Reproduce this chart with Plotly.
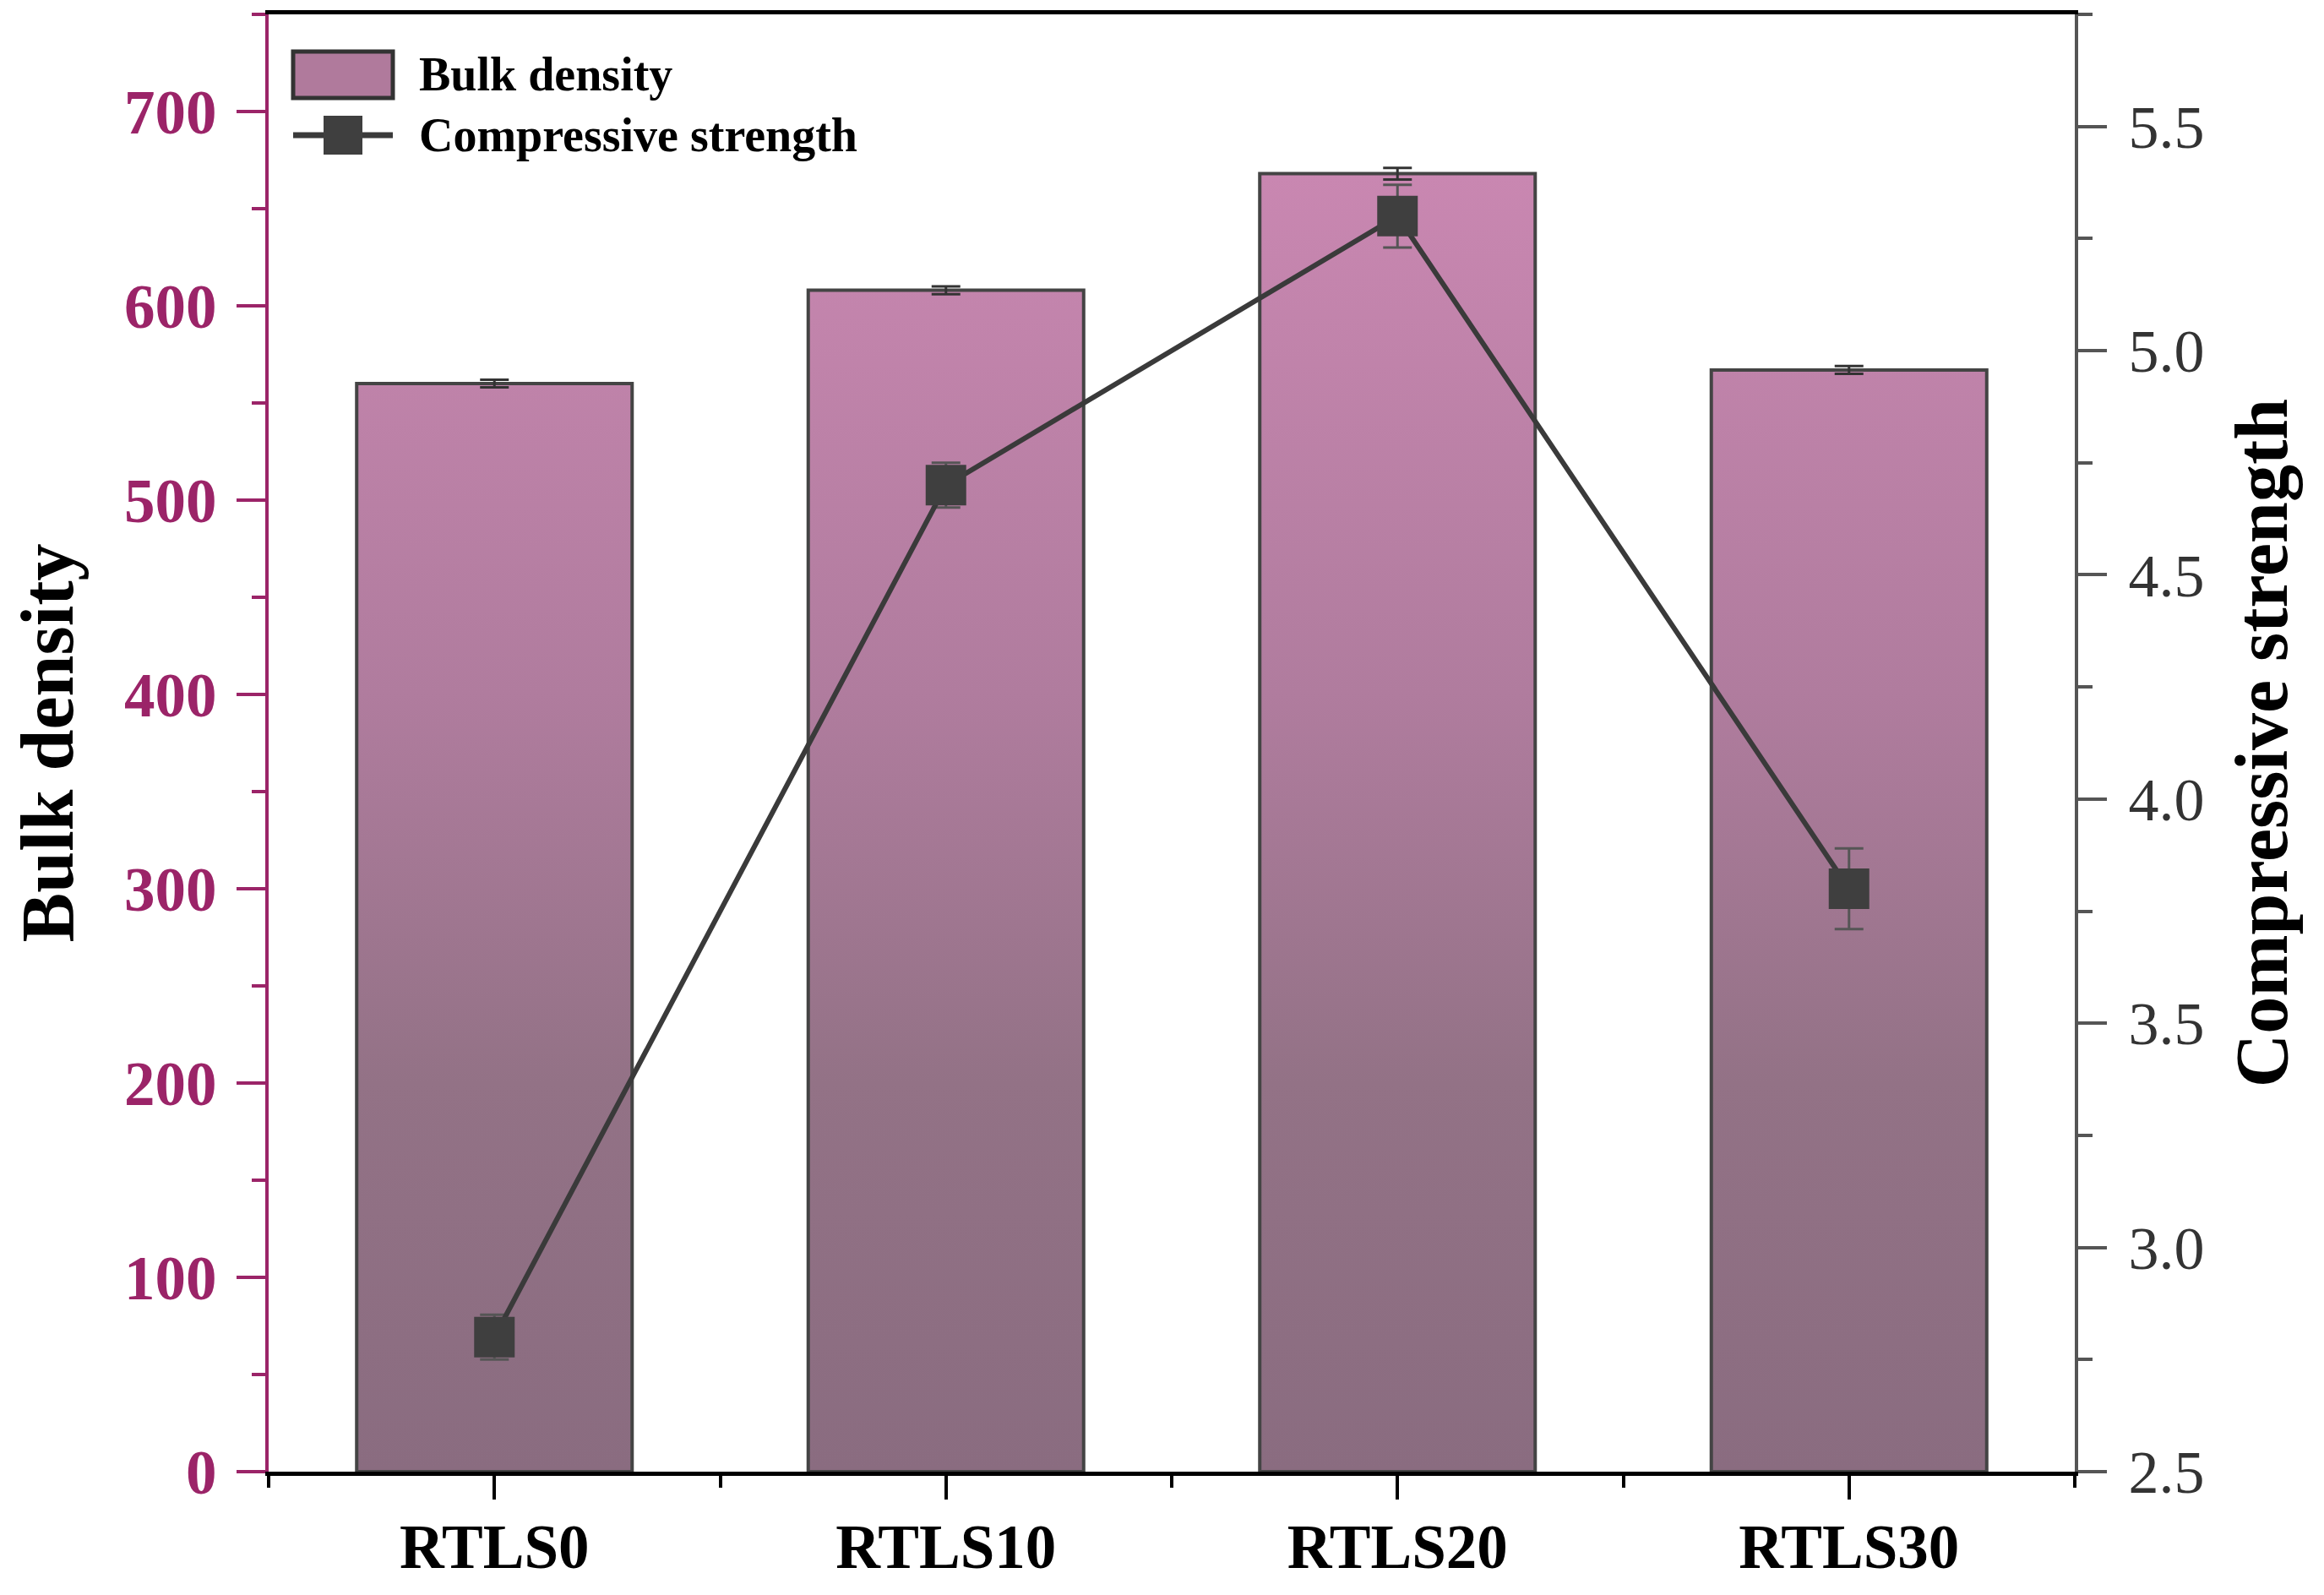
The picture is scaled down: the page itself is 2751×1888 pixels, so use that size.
import plotly.graph_objects as go

# ---------------- data ----------------
categories = ["RTLS0", "RTLS10", "RTLS20", "RTLS30"]
bulk_density = [560, 608, 668, 567]
bulk_density_err = [2, 2, 3, 2]
compressive_strength = [2.80, 4.70, 5.30, 3.80]
compressive_strength_err = [0.05, 0.05, 0.07, 0.09]
series_names = ["Bulk density", "Compressive strength"]
left_ticks = [0, 100, 200, 300, 400, 500, 600, 700]
right_ticks = [2.5, 3.0, 3.5, 4.0, 4.5, 5.0, 5.5]

# ---------------- style ----------------
W, H = 2751, 1888
OFF = 8  # page body margin offset
PLOT_L, PLOT_R, PLOT_T, PLOT_B = 318, 2456, 17, 1742  # target screen positions
ML, MT = PLOT_L - OFF, PLOT_T - OFF
MR = W - ML - (PLOT_R - PLOT_L)
MB = H - MT - (PLOT_B - PLOT_T)
PW, PH = PLOT_R - PLOT_L, PLOT_B - PLOT_T
FONT = "Liberation Serif"
MAGENTA = "#9B2468"
DARK = "#3A3A3A"
BAR_W = 0.61
grad = [[0.0, "#8A6C80"], [0.3, "#937286"], [0.6, "#B07C9E"], [1.0, "#C987B1"]]

xpos = list(range(len(categories)))


def px_x(px):
    return (px - PLOT_L) / PW


def px_y(py):
    return (PLOT_B - py) / PH


# bar bodies as filled polygons (vertical gradient), built from data
bx, by = [], []
for xi, v in zip(xpos, bulk_density):
    bx += [xi - BAR_W / 2, xi - BAR_W / 2, xi + BAR_W / 2, xi + BAR_W / 2, xi - BAR_W / 2, None]
    by += [0, v, v, 0, 0, None]

fig = go.Figure()
fig.add_trace(go.Scatter(
    x=bx, y=by, mode="lines", fill="toself",
    fillgradient=dict(type="vertical", colorscale=grad),
    line=dict(color="#444444", width=4),
    name=series_names[0], showlegend=False, hoverinfo="skip",
))
fig.add_trace(go.Scatter(
    x=xpos, y=bulk_density, mode="markers",
    marker=dict(size=1, color="rgba(0,0,0,0)"),
    error_y=dict(type="data", array=bulk_density_err, color="#333333", thickness=3, width=17),
    name=series_names[0], showlegend=False,
))
fig.add_trace(go.Scatter(
    x=xpos, y=compressive_strength, yaxis="y2", mode="lines+markers",
    line=dict(color=DARK, width=6),
    marker=dict(symbol="square", size=48, color="#3F3F3F", line=dict(width=0)),
    error_y=dict(type="data", array=compressive_strength_err, color="#555555", thickness=3, width=17),
    name=series_names[1], showlegend=False,
))

# ---------------- custom legend ----------------
shapes = [
    dict(type="rect", xref="paper", yref="paper",
         x0=px_x(347), x1=px_x(465), y0=px_y(116), y1=px_y(61),
         fillcolor="#B07A9C", line=dict(color="#333333", width=5), layer="above"),
    dict(type="line", xref="paper", yref="paper",
         x0=px_x(347), x1=px_x(465), y0=px_y(160), y1=px_y(160),
         line=dict(color=DARK, width=7), layer="above"),
    dict(type="rect", xref="paper", yref="paper",
         x0=px_x(383), x1=px_x(429), y0=px_y(183), y1=px_y(137),
         fillcolor="#3F3F3F", line=dict(width=0), layer="above"),
]
annotations = [
    dict(xref="paper", yref="paper", x=px_x(494), y=px_y(88), xanchor="left", yanchor="middle",
         text="<b>%s</b>" % series_names[0], showarrow=False,
         font=dict(family=FONT, size=56, color="black")),
    dict(xref="paper", yref="paper", x=px_x(494), y=px_y(160), xanchor="left", yanchor="middle",
         text="<b>%s</b>" % series_names[1], showarrow=False,
         font=dict(family=FONT, size=56, color="black")),
]

fig.update_layout(
    width=W, height=H,
    margin=dict(l=ML, r=MR, t=MT, b=MB, autoexpand=False),
    paper_bgcolor="white", plot_bgcolor="white",
    showlegend=False,
    shapes=shapes, annotations=annotations,
    font=dict(family=FONT),
    xaxis=dict(
        range=[-0.5, 3.5], tickvals=xpos, ticktext=categories,
        showgrid=False, zeroline=False, automargin=False,
        showline=True, linecolor="black", linewidth=5, mirror=True,
        ticks="outside", ticklen=28, tickwidth=4, tickcolor="black",
        ticklabelstandoff=-7,
        tickfont=dict(family=FONT, size=73, color="black", weight="bold"),
        minor=dict(ticks="outside", tick0=0.5, dtick=1, ticklen=14, tickwidth=4, tickcolor="black"),
    ),
    yaxis=dict(
        range=[0, 750], tickvals=left_ticks,
        showgrid=False, zeroline=False, automargin=False,
        showline=True, linecolor=MAGENTA, linewidth=4,
        ticks="outside", ticklen=34, tickwidth=4, tickcolor=MAGENTA,
        ticklabelstandoff=9,
        tickfont=dict(family=FONT, size=73, color=MAGENTA, weight="bold"),
        minor=dict(ticks="outside", dtick=50, ticklen=16, tickwidth=4, tickcolor=MAGENTA),
        title=dict(text="Bulk density", standoff=33,
                   font=dict(family=FONT, size=88, color="black", weight="bold")),
    ),
    yaxis2=dict(
        overlaying="y", side="right",
        range=[2.5, 5.75], tickvals=right_ticks, tickformat=".1f",
        showgrid=False, zeroline=False, automargin=False,
        showline=True, linecolor="#555555", linewidth=4,
        ticks="outside", ticklen=34, tickwidth=4, tickcolor="#555555",
        ticklabelstandoff=11,
        tickfont=dict(family=FONT, size=72, color="#333333"),
        minor=dict(ticks="outside", dtick=0.25, ticklen=17, tickwidth=4, tickcolor="#555555"),
        title=dict(text="Compressive strength", standoff=38,
                   font=dict(family=FONT, size=88, color="black", weight="bold")),
    ),
)

fig.write_html("out.html")
